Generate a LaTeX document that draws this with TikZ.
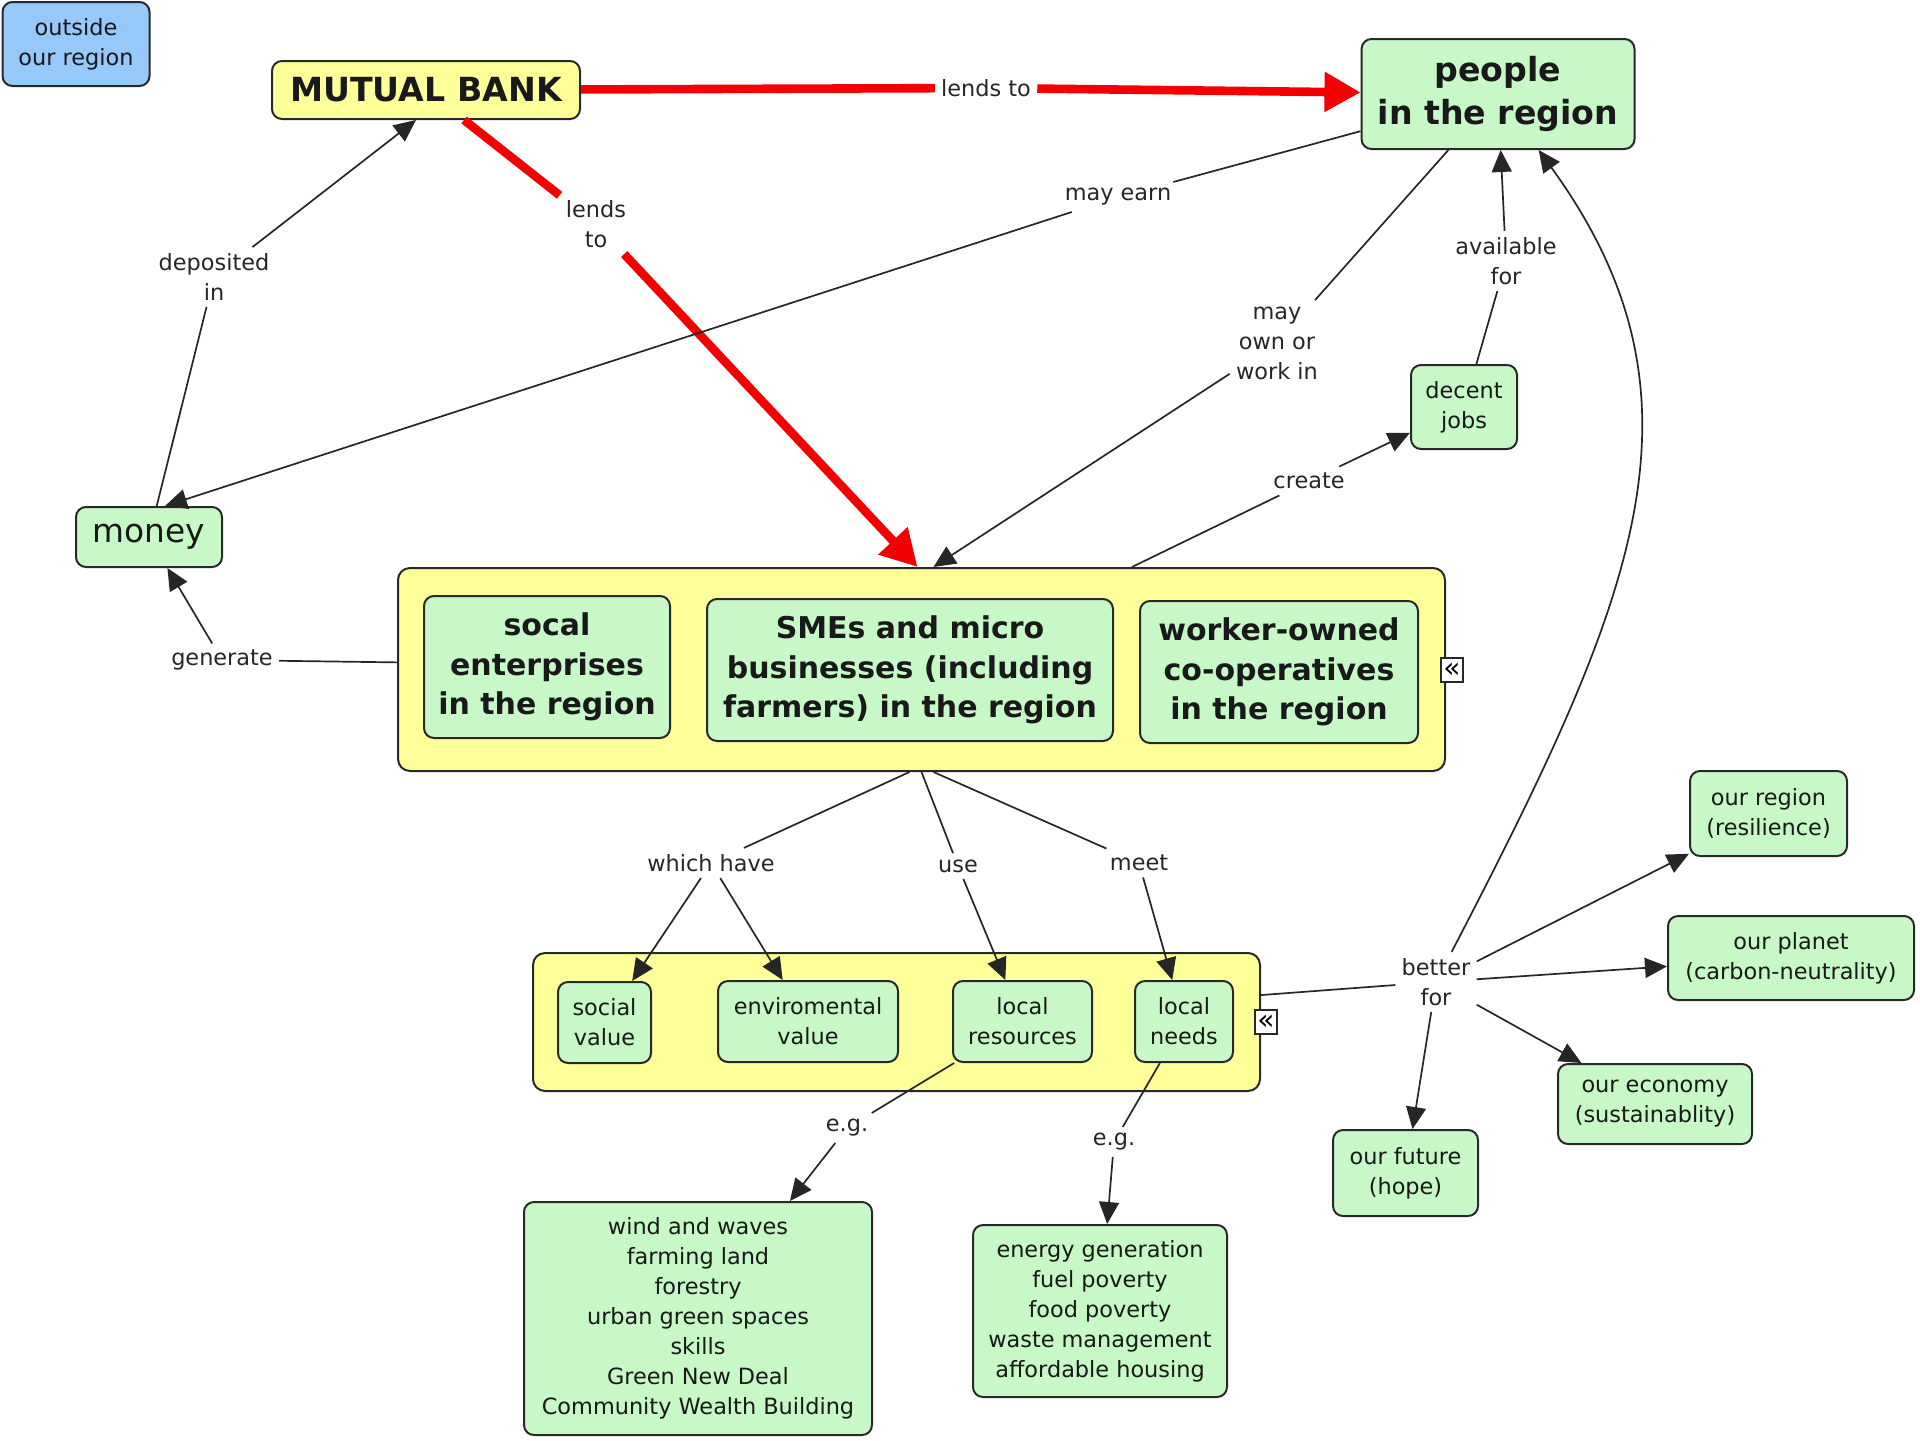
\documentclass[tikz,border=0pt]{standalone}
\usepackage{fontspec}
\setmainfont{DejaVu Sans}
\usetikzlibrary{arrows.meta}

\definecolor{mapgreen}{RGB}{200,248,200}
\definecolor{mapyellow}{RGB}{255,255,153}
\definecolor{mapblue}{RGB}{150,200,250}
\definecolor{mapline}{RGB}{40,40,40}
\definecolor{mapred}{RGB}{245,0,0}

\tikzset{
  concept/.style={draw=mapline, line width=1pt, rounded corners=5pt, fill=mapgreen, align=center, inner sep=2pt, text=black!90, font=\fontsize{11.2}{15}\selectfont},
  bigconcept/.style={concept, font=\fontsize{16.6}{21.5}\selectfont\bfseries},
  subconcept/.style={concept, font=\fontsize{15}{19.6}\selectfont\bfseries},
  holder/.style={draw=mapline, line width=1pt, rounded corners=6pt, fill=mapyellow},
  linkword/.style={align=center, inner sep=3pt, text=black!85, font=\fontsize{11.2}{15}\selectfont},
  link/.style={line width=0.85pt, draw=black!85},
  arrowlink/.style={link, -{Triangle[length=11pt,width=10pt]}},
  banklink/.style={line width=4.3pt, draw=mapred},
  bankarrow/.style={banklink, -{Triangle[length=18pt,width=19pt]}},
  expander/.style={draw=mapline, line width=0.9pt, fill=white, inner sep=0pt, minimum width=11pt, minimum height=12pt, font=\fontsize{14}{14}\selectfont}
}

\begin{document}
\begin{tikzpicture}[x=0.5pt,y=0.5pt,yscale=-1]
\useasboundingbox (0,0) rectangle (1920,1440);

% Concepts
\node[concept, fill=mapblue, minimum width=73.5pt, minimum height=42pt] (outside) at (76,44) {outside\\our region};
\node[bigconcept, fill=mapyellow, minimum width=154pt, minimum height=29pt] (bank) at (426,90) {MUTUAL BANK};
\node[bigconcept, minimum width=136.5pt, minimum height=55pt] (people) at (1498,94) {people\\in the region};
\node[concept, font=\fontsize{16.4}{20}\selectfont, minimum width=73pt, minimum height=30pt] (money) at (149,537) {money};
\node[concept, minimum width=53pt, minimum height=42pt] (jobs) at (1464,407) {decent\\jobs};

% Businesses in the region
\node[holder, minimum width=523.5pt, minimum height=101.5pt] (firms) at (921.5,669.5) {};
\node[subconcept, minimum width=123pt, minimum height=71pt] (socent) at (547,667) {socal\\enterprises\\in the region};
\node[subconcept, minimum width=203pt, minimum height=71pt] (smes) at (910,670) {SMEs and micro\\businesses (including\\farmers) in the region};
\node[subconcept, minimum width=139pt, minimum height=71pt] (coops) at (1279,672) {worker-owned\\co-operatives\\in the region};
\node[expander] (fold1) at (1452,670) {«};

% Values
\node[holder, minimum width=363.5pt, minimum height=69pt] (values) at (896.5,1022) {};
\node[concept, minimum width=46.5pt, minimum height=40.5pt] (socval) at (604.5,1022.5) {social\\value};
\node[concept, minimum width=90pt, minimum height=40.5pt] (envval) at (808,1021.5) {enviromental\\value};
\node[concept, minimum width=69.5pt, minimum height=40.5pt] (resources) at (1022.5,1021.5) {local\\resources};
\node[concept, minimum width=49pt, minimum height=40.5pt] (needs) at (1184,1021.5) {local\\needs};
\node[expander] (fold2) at (1266,1022) {«};

% Examples and outcomes
\node[concept, minimum width=174pt, minimum height=116.5pt] (wind) at (698,1318.5) {wind and waves\\farming land\\forestry\\urban green spaces\\skills\\Green New Deal\\Community Wealth Building};
\node[concept, minimum width=127pt, minimum height=86pt] (energy) at (1100,1311) {energy generation\\fuel poverty\\food poverty\\waste management\\affordable housing};
\node[concept, minimum width=72.5pt, minimum height=43pt] (future) at (1405.5,1173) {our future\\(hope)};
\node[concept, minimum width=97pt, minimum height=40pt] (economy) at (1655,1104) {our economy\\(sustainablity)};
\node[concept, minimum width=123pt, minimum height=42pt] (planet) at (1791,958) {our planet\\(carbon-neutrality)};
\node[concept, minimum width=78.5pt, minimum height=42.5pt] (resil) at (1768.5,813.5) {our region\\(resilience)};

% Linking words
\node[linkword] (lend1) at (986,88) {lends to};
\node[linkword] (lend2) at (596,224) {lends\\to};
\node[linkword] (dep) at (214,277) {deposited\\in};
\node[linkword] (earn) at (1118,197) {may earn};
\node[linkword] (own) at (1277,343) {may\\own or\\work in};
\node[linkword] (avail) at (1506,261) {available\\for};
\node[linkword] (create) at (1309,481) {create};
\node[linkword] (gen) at (222,660) {generate};
\node[linkword] (which) at (711,863) {which have};
\node[linkword] (use) at (958,866) {use};
\node[linkword] (meet) at (1139,863) {meet};
\node[linkword] (eg1) at (847,1128) {e.g.};
\node[linkword] (eg2) at (1114,1142) {e.g.};
\node[linkword] (better) at (1436,982) {better\\for};

% Lending
\draw[banklink] (bank) -- (lend1);
\draw[bankarrow] (lend1) -- (people);
\draw[banklink] (bank) -- (lend2);
\draw[bankarrow] (lend2) -- ([xshift=-2pt]firms.north);

% Money and people
\draw[link] (money) -- (dep);
\draw[arrowlink] (dep) -- ([xshift=-5pt]bank.south);
\draw[link] (people) -- (earn);
\draw[arrowlink] (earn) -- ([xshift=8pt]money.north);
\draw[link] (people) -- (own);
\draw[arrowlink] (own) -- ([xshift=6pt]firms.north);
\draw[link] (jobs) -- (avail);
\draw[arrowlink] (avail) -- (people);
\draw[link] (firms) -- (create);
\draw[arrowlink] (create) -- (jobs);
\draw[link] (firms) -- (gen);
\draw[arrowlink] (gen) -- (money);

% What the businesses have
\draw[link] ([xshift=-6pt]firms.south) -- (which);
\draw[arrowlink] (which) -- (socval);
\draw[arrowlink] (which) -- (envval);
\draw[link] (firms.south) -- (use);
\draw[arrowlink] (use) -- (resources);
\draw[link] ([xshift=6pt]firms.south) -- (meet);
\draw[arrowlink] (meet) -- (needs);
\draw[link] (resources) -- (eg1);
\draw[arrowlink] (eg1) -- (wind);
\draw[link] (needs) -- (eg2);
\draw[arrowlink] (eg2) -- (energy);

% Better for
\draw[link] (values) -- (better);
\draw[arrowlink] (better) -- (future);
\draw[arrowlink] (better) -- (economy);
\draw[arrowlink] (better) -- (planet);
\draw[arrowlink] (better) -- (resil);
\draw[arrowlink] (better) .. controls (1635,599) and (1720,400) .. (people);

\end{tikzpicture}
\end{document}
